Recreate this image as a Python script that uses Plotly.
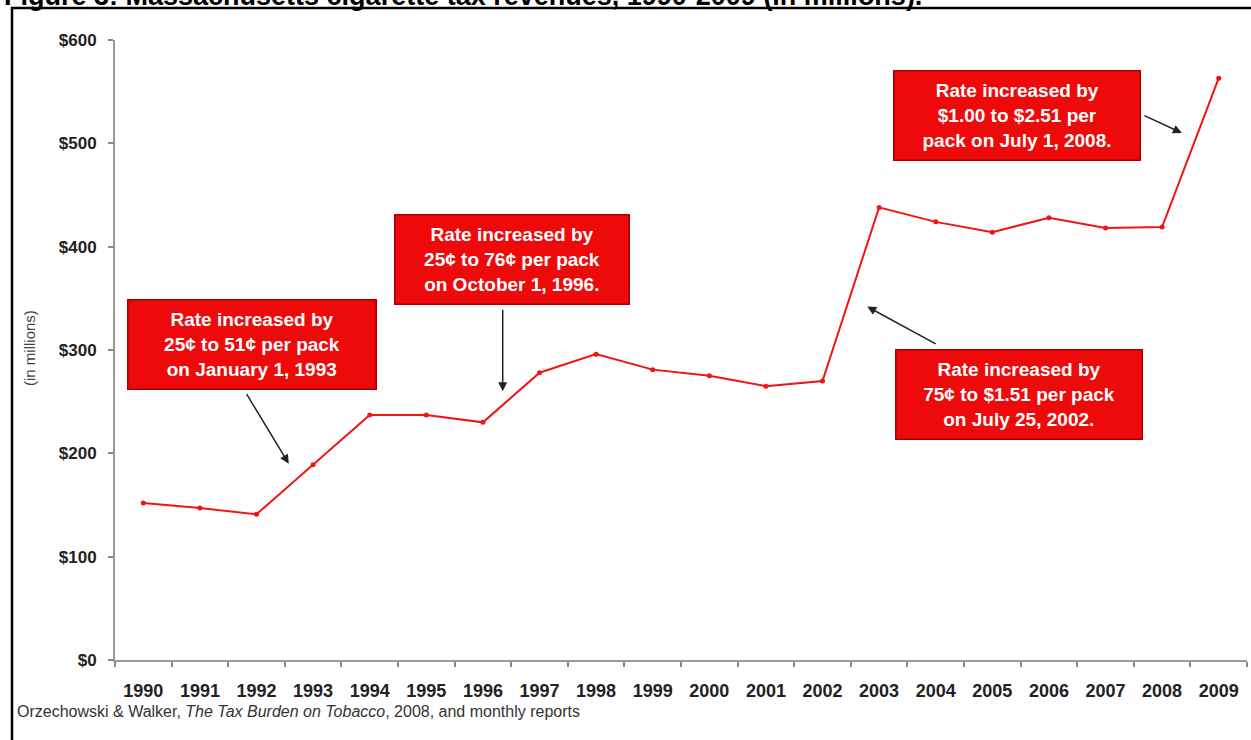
import plotly.graph_objects as go

years = [str(y) for y in range(1990, 2010)]
revenues = [152, 147, 141, 189, 237, 237, 230, 278, 296, 281,
            275, 265, 270, 438, 424, 414, 428, 418, 419, 563]
y_ticks = [0, 100, 200, 300, 400, 500, 600]
y_labels = ["$0", "$100", "$200", "$300", "$400", "$500", "$600"]

title_text = "Figure 3: Massachusetts cigarette tax revenues, 1990-2009 (in millions)."
source_html = ("Orzechowski &amp; Walker, <i>The Tax Burden on Tobacco</i>, 2008, "
               "and monthly reports")

notes = [
    # text, box centre (category index, value), arrow head (index, value), tail offset px, box w
    ("Rate increased by<br>25¢ to 51¢ per pack<br>on January 1, 1993", 1.92, 305, 2.57, 190, -43, -71, 243),
    ("Rate increased by<br>25¢ to 76¢ per pack<br>on October 1, 1996.", 6.51, 388, 6.35, 260, 0, -83, 229),
    ("Rate increased by<br>$1.00 to $2.51 per<br>pack on July 1, 2008.", 15.44, 527, 18.35, 510, -39, -18, 241),
    ("Rate increased by<br>75¢ to $1.51 per pack<br>on July 25, 2002.", 15.48, 257, 12.79, 342, 70, 38, 241),
]

W, H = 1251, 740
L, R, T, B = 115, 4, 40, 80

fig = go.Figure()
fig.add_trace(go.Scatter(
    x=years, y=revenues, mode="lines+markers",
    line=dict(color="#f01414", width=2),
    marker=dict(color="#f01414", size=5),
    hoverinfo="skip", showlegend=False,
))

annotations = []
for text, bx, by, hx, hy, axp, ayp, bw in notes:
    annotations.append(dict(
        x=hx, y=hy, xref="x", yref="y", text="", showarrow=True,
        ax=axp, ay=ayp, arrowhead=2, arrowsize=1.2, arrowwidth=1.5,
        arrowcolor="#222222",
    ))
    annotations.append(dict(
        x=bx, y=by, xref="x", yref="y", text="<b>" + text + "</b>",
        showarrow=False, xanchor="center", yanchor="middle",
        width=bw, height=84, borderpad=2,
        bgcolor="#ee0a0a", bordercolor="#a80000", borderwidth=1.5,
        font=dict(family="Liberation Sans, Arial", size=19, color="white"),
        align="center",
    ))

pw = W - L - R
ph = H - T - B
def px2paperx(px):
    return (px - L) / pw
def px2papery(py):
    return (H - B - py) / ph

annotations.append(dict(
    x=px2paperx(2), y=px2papery(13), xref="paper", yref="paper",
    text="<b>" + title_text + "</b>", showarrow=False,
    xanchor="left", yanchor="bottom",
    font=dict(family="Liberation Sans, Arial", size=27, color="black"),
))
annotations.append(dict(
    x=px2paperx(15), y=px2papery(711), xref="paper", yref="paper",
    text=source_html, showarrow=False, xanchor="left", yanchor="middle",
    font=dict(family="Liberation Sans, Arial", size=16, color="#333333"),
))
annotations.append(dict(
    x=px2paperx(29), y=px2papery(348), xref="paper", yref="paper",
    text="(in millions)", showarrow=False, textangle=-90,
    xanchor="center", yanchor="middle",
    font=dict(family="Liberation Sans, Arial", size=15, color="#444444"),
))

fig.update_layout(
    width=W, height=H,
    margin=dict(l=L, r=R, t=T, b=B, pad=0),
    paper_bgcolor="white", plot_bgcolor="white",
    annotations=annotations,
    shapes=[dict(
        type="rect", xref="paper", yref="paper",
        x0=px2paperx(12), x1=px2paperx(1253),
        y0=px2papery(750), y1=px2papery(8),
        line=dict(color="black", width=2.5), fillcolor="rgba(0,0,0,0)",
        layer="below",
    )],
    xaxis=dict(
        type="category", range=[-0.5, 19.5], tickson="boundaries",
        ticks="outside", ticklen=5, tickwidth=1.5, tickcolor="#888888",
        showline=True, linecolor="#999999", linewidth=2,
        showgrid=False, zeroline=False, ticklabelstandoff=13,
        tickfont=dict(family="Liberation Sans, Arial", size=18, color="#222222"),
    ),
    yaxis=dict(
        range=[0, 600], tickvals=y_ticks, ticktext=y_labels,
        ticks="outside", ticklen=5, tickwidth=1.5, tickcolor="#888888",
        showline=True, linecolor="#999999", linewidth=2,
        showgrid=False, zeroline=False, ticklabelstandoff=8,
        tickfont=dict(family="Liberation Sans, Arial", size=17, color="#222222"),
    ),
)
fig.update_xaxes(tickfont_weight="bold")
fig.update_yaxes(tickfont_weight="bold")

fig.write_html("out.html")
